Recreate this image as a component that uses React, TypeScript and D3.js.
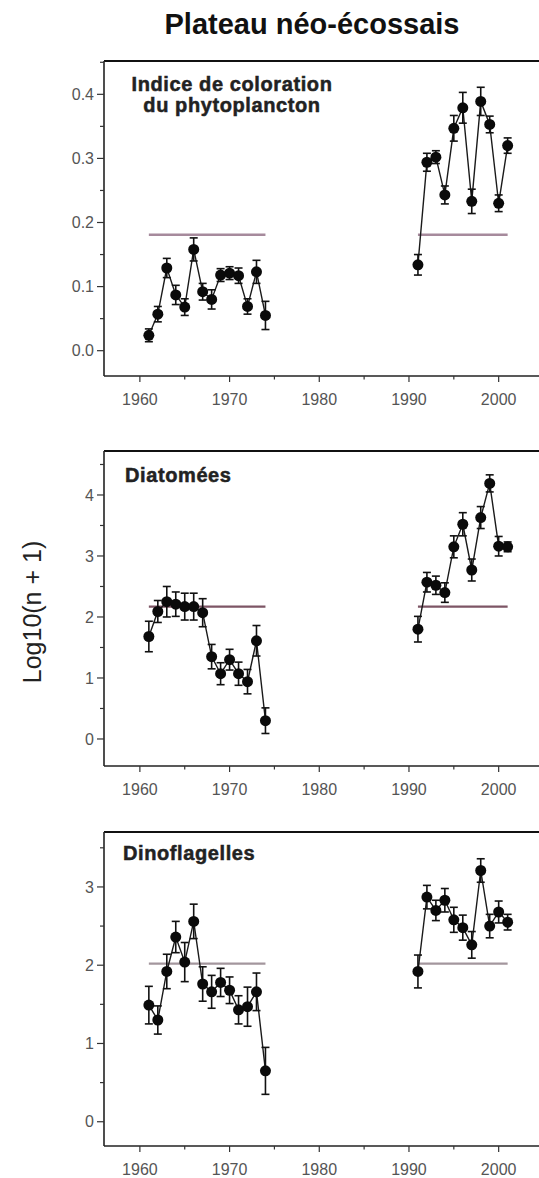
import React from 'react';
import * as d3 from 'd3';

const earlyYears = [1961, 1962, 1963, 1964, 1965, 1966, 1967, 1968, 1969, 1970, 1971, 1972, 1973, 1974]
const lateYears = [1991, 1992, 1993, 1994, 1995, 1996, 1997, 1998, 1999, 2000, 2001]

const colourEarly = [0.024, 0.057, 0.129, 0.087, 0.068, 0.158, 0.092, 0.080, 0.118, 0.121, 0.117, 0.069, 0.123, 0.055]
const colourEarlyErr = [0.010, 0.012, 0.015, 0.015, 0.013, 0.018, 0.013, 0.015, 0.010, 0.010, 0.012, 0.012, 0.018, 0.022]
const colourLate = [0.134, 0.294, 0.302, 0.243, 0.347, 0.379, 0.233, 0.389, 0.353, 0.230, 0.320]
const colourLateErr = [0.016, 0.014, 0.010, 0.014, 0.020, 0.024, 0.019, 0.022, 0.013, 0.013, 0.012]
const colourMean = 0.181

const diatomEarly = [1.68, 2.09, 2.25, 2.21, 2.17, 2.17, 2.07, 1.35, 1.07, 1.30, 1.07, 0.94, 1.61, 0.30]
const diatomEarlyErr = [0.25, 0.18, 0.25, 0.20, 0.22, 0.22, 0.23, 0.20, 0.18, 0.17, 0.19, 0.20, 0.25, 0.21]
const diatomLate = [1.80, 2.57, 2.52, 2.40, 3.15, 3.52, 2.77, 3.63, 4.19, 3.16, 3.15]
const diatomLateErr = [0.21, 0.16, 0.15, 0.16, 0.18, 0.19, 0.18, 0.18, 0.14, 0.16, 0.08]
const diatomMean = 2.17

const dinoEarly = [1.49, 1.30, 1.92, 2.36, 2.04, 2.56, 1.76, 1.66, 1.78, 1.68, 1.43, 1.47, 1.66, 0.65]
const dinoEarlyErr = [0.24, 0.18, 0.22, 0.20, 0.25, 0.22, 0.22, 0.21, 0.18, 0.17, 0.18, 0.25, 0.24, 0.30]
const dinoLate = [1.92, 2.87, 2.70, 2.83, 2.58, 2.48, 2.26, 3.21, 2.50, 2.68, 2.55]
const dinoLateErr = [0.21, 0.15, 0.13, 0.15, 0.16, 0.16, 0.17, 0.15, 0.15, 0.14, 0.10]
const dinoMean = 2.02

const yearTicks = [1960, 1970, 1980, 1990, 2000]
const yearMinorTicks = [1965, 1975, 1985, 1995]

const title = 'Plateau néo-écossais'
const yLabel = 'Log10(n + 1)'

const FONT = 'Liberation Sans, Arial, Helvetica, sans-serif'

// one entry per panel; the layout numbers are kept apart from the values
const panels = [
    {
        name: ['Indice de coloration', 'du phytoplancton'], nameAnchor: 'middle', nameX: 232, nameY: 91,
        top: 61, bottom: 376, domain: [-0.0395, 0.452],
        ticks: [0, 0.1, 0.2, 0.3, 0.4], minor: [0.05, 0.15, 0.25, 0.35, 0.45], fmt: '.1f',
        early: colourEarly, earlyErr: colourEarlyErr, late: colourLate, lateErr: colourLateErr,
        mean: colourMean, meanColour: '#a68a9c',
    },
    {
        name: ['Diatomées'], nameAnchor: 'start', nameX: 125, nameY: 482,
        top: 451, bottom: 766, domain: [-0.443, 4.721],
        ticks: [0, 1, 2, 3, 4], minor: [0.5, 1.5, 2.5, 3.5, 4.5], fmt: 'd',
        early: diatomEarly, earlyErr: diatomEarlyErr, late: diatomLate, lateErr: diatomLateErr,
        mean: diatomMean, meanColour: '#7d5565',
    },
    {
        name: ['Dinoflagelles'], nameAnchor: 'start', nameX: 123, nameY: 860,
        top: 832, bottom: 1146, domain: [-0.31, 3.702],
        ticks: [0, 1, 2, 3], minor: [0.5, 1.5, 2.5, 3.5], fmt: 'd',
        early: dinoEarly, earlyErr: dinoEarlyErr, late: dinoLate, lateErr: dinoLateErr,
        mean: dinoMean, meanColour: '#a3969d',
    },
]

class PlanktonChart extends React.Component {
    componentDidMount() {
        this.draw(this.node)
    }

    draw = (node) => {
        let svg = d3.select(node)
        svg.selectAll('*').remove()

        let xScale = d3.scaleLinear()
            .domain([1956, 2005.5])
            .range([104, 548])

        svg.append('text')
            .attr('x', 312)
            .attr('y', 34)
            .attr('text-anchor', 'middle')
            .attr('font-family', FONT)
            .attr('font-weight', 'bold')
            .attr('font-size', 29)
            .attr('fill', '#111')
            .text(title)

        svg.append('text')
            .attr('transform', 'translate(41,612) rotate(-90)')
            .attr('text-anchor', 'middle')
            .attr('font-family', FONT)
            .attr('font-size', 25)
            .attr('fill', '#222')
            .text(yLabel)

        panels.forEach((p) => {
            let yScale = d3.scaleLinear()
                .domain(p.domain)
                .range([p.bottom, p.top])
            let g = svg.append('g')

            // frame: top line, left axis, bottom axis
            g.append('line')
                .attr('x1', xScale.range()[0]).attr('x2', xScale.range()[1])
                .attr('y1', p.top).attr('y2', p.top)
                .attr('stroke', '#111').attr('stroke-width', 2)
            g.append('line')
                .attr('x1', xScale.range()[0]).attr('x2', xScale.range()[0])
                .attr('y1', p.top).attr('y2', p.bottom)
                .attr('stroke', '#222').attr('stroke-width', 1.6)
            g.append('line')
                .attr('x1', xScale.range()[0]).attr('x2', xScale.range()[1])
                .attr('y1', p.bottom).attr('y2', p.bottom)
                .attr('stroke', '#222').attr('stroke-width', 1.6)

            // y ticks
            g.selectAll('.ymaj').data(p.ticks).enter().append('line')
                .attr('x1', 97).attr('x2', 104)
                .attr('y1', (d) => yScale(d)).attr('y2', (d) => yScale(d))
                .attr('stroke', '#333').attr('stroke-width', 1.2)
            g.selectAll('.ymin').data(p.minor).enter().append('line')
                .attr('x1', 100).attr('x2', 104)
                .attr('y1', (d) => yScale(d)).attr('y2', (d) => yScale(d))
                .attr('stroke', '#333').attr('stroke-width', 1.2)
            g.selectAll('.ylab').data(p.ticks).enter().append('text')
                .attr('x', 94)
                .attr('y', (d) => yScale(d))
                .attr('dy', '0.36em')
                .attr('text-anchor', 'end')
                .attr('font-family', FONT)
                .attr('font-size', 16)
                .attr('fill', '#555')
                .text((d) => d3.format(p.fmt)(d))

            // x ticks
            g.selectAll('.xmaj').data(yearTicks).enter().append('line')
                .attr('x1', (d) => xScale(d)).attr('x2', (d) => xScale(d))
                .attr('y1', p.bottom).attr('y2', p.bottom + 6)
                .attr('stroke', '#333').attr('stroke-width', 1.2)
            g.selectAll('.xmin').data(yearMinorTicks).enter().append('line')
                .attr('x1', (d) => xScale(d)).attr('x2', (d) => xScale(d))
                .attr('y1', p.bottom).attr('y2', p.bottom + 3.5)
                .attr('stroke', '#333').attr('stroke-width', 1.2)
            g.selectAll('.xlab').data(yearTicks).enter().append('text')
                .attr('x', (d) => xScale(d))
                .attr('y', p.bottom + 29)
                .attr('text-anchor', 'middle')
                .attr('font-family', FONT)
                .attr('font-size', 16)
                .attr('fill', '#555')
                .text((d) => d)

            // panel name (heavy, slightly tracked like the original)
            let nameText = g.append('text')
                .attr('x', p.nameX)
                .attr('y', p.nameY)
                .attr('text-anchor', p.nameAnchor)
                .attr('font-family', FONT)
                .attr('font-weight', 'bold')
                .attr('font-size', 20)
                .attr('letter-spacing', 0.6)
                .attr('fill', '#222')
                .attr('stroke', '#222')
                .attr('stroke-width', 0.5)
            p.name.forEach((s, i) => {
                nameText.append('tspan')
                    .attr('x', p.nameX)
                    .attr('dy', i === 0 ? 0 : 21)
                    .text(s)
            })

            // long-term means
            let meanLine = d3.line()
                .x((d) => xScale(d[0]))
                .y((d) => yScale(d[1]))
            ;[earlyYears, lateYears].forEach((yrs) => {
                g.append('path')
                    .attr('d', meanLine([[yrs[0], p.mean], [yrs[yrs.length - 1], p.mean]]))
                    .attr('fill', 'none')
                    .attr('stroke', p.meanColour)
                    .attr('stroke-width', 2.4)
            })

            // series
            let series = [
                earlyYears.map((yr, i) => ({ yr, v: p.early[i], e: p.earlyErr[i] })),
                lateYears.map((yr, i) => ({ yr, v: p.late[i], e: p.lateErr[i] })),
            ]
            let makeLine = d3.line()
                .x((d) => xScale(d.yr))
                .y((d) => yScale(d.v))

            series.forEach((data) => {
                g.append('path')
                    .attr('d', makeLine(data))
                    .attr('fill', 'none')
                    .attr('stroke', '#1a1a1a')
                    .attr('stroke-width', 1.4)

                let bars = g.append('g')
                    .attr('stroke', '#111')
                    .attr('stroke-width', 1.6)
                bars.selectAll('.eb').data(data).enter().append('line')
                    .attr('x1', (d) => xScale(d.yr)).attr('x2', (d) => xScale(d.yr))
                    .attr('y1', (d) => yScale(d.v - d.e)).attr('y2', (d) => yScale(d.v + d.e))
                bars.selectAll('.capTop').data(data).enter().append('line')
                    .attr('x1', (d) => xScale(d.yr) - 4).attr('x2', (d) => xScale(d.yr) + 4)
                    .attr('y1', (d) => yScale(d.v + d.e)).attr('y2', (d) => yScale(d.v + d.e))
                bars.selectAll('.capBot').data(data).enter().append('line')
                    .attr('x1', (d) => xScale(d.yr) - 4).attr('x2', (d) => xScale(d.yr) + 4)
                    .attr('y1', (d) => yScale(d.v - d.e)).attr('y2', (d) => yScale(d.v - d.e))

                g.selectAll('.pt').data(data).enter().append('circle')
                    .attr('cx', (d) => xScale(d.yr))
                    .attr('cy', (d) => yScale(d.v))
                    .attr('r', 5.5)
                    .attr('fill', '#0a0a0a')
            })
        })
    }

    render() {
        return (
            <svg ref={node => this.node = node}
                width={539} height={1178}
                style={{ position: 'absolute', left: 0, top: 0, background: '#fff' }}>
            </svg>
        )
    }
}

export default function App() {
    return <PlanktonChart />
}
